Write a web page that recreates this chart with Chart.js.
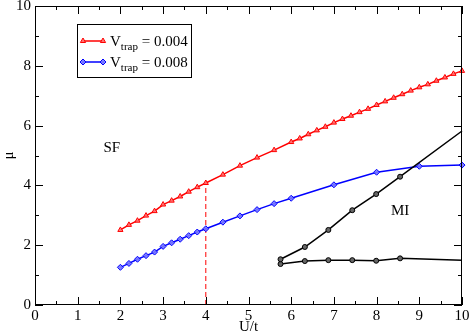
<!DOCTYPE html>
<html>
<head>
<meta charset="utf-8">
<script src="https://cdn.jsdelivr.net/npm/chart.js"></script>
<style>
html, body { margin: 0; padding: 0; background: #fff; }
</style>
</head>
<body>
<canvas id="muChart" width="471" height="336"></canvas>
<script>
// ==========================
// Data
// ==========================

const uRed = [2, 2.2, 2.4, 2.6, 2.8, 3, 3.2, 3.4, 3.6, 3.8, 4, 4.4, 4.8, 5.2, 5.6, 6,
    6.2, 6.4, 6.6, 6.8, 7, 7.2, 7.4, 7.6, 7.8, 8, 8.2, 8.4, 8.6, 8.8, 9, 9.2, 9.4, 9.6, 9.8, 10];
const muRed = [2.51, 2.68, 2.82, 2.99, 3.14, 3.36, 3.49, 3.63, 3.79, 3.94, 4.08, 4.36, 4.66, 4.93, 5.18, 5.45,
    5.57, 5.71, 5.84, 5.96, 6.10, 6.22, 6.33, 6.45, 6.56, 6.69, 6.81, 6.93, 7.05, 7.17, 7.28, 7.38, 7.50, 7.61, 7.73, 7.83];

const uBlue = [2, 2.2, 2.4, 2.6, 2.8, 3, 3.2, 3.4, 3.6, 3.8, 4, 4.4, 4.8, 5.2, 5.6, 6, 7, 8, 9, 10];
const muBlue = [1.26, 1.39, 1.53, 1.65, 1.77, 1.96, 2.08, 2.20, 2.32, 2.44, 2.55, 2.77, 2.98, 3.19, 3.39, 3.57, 4.02, 4.44, 4.64, 4.68];

const uMiUpper = [5.75, 6.32, 6.87, 7.43, 7.99, 8.55, 10];
const muMiUpper = [1.53, 1.94, 2.51, 3.17, 3.71, 4.29, 5.82];

const uMiLower = [5.75, 6.32, 6.87, 7.43, 7.99, 8.55, 10];
const muMiLower = [1.37, 1.47, 1.50, 1.50, 1.48, 1.56, 1.50];

const uCut = [4, 4];
const muCut = [0, 4.08];

const legendLabels = ["0.004", "0.008"];

function toPoints(xs, ys) {
    return xs.map((x, i) => ({ x: x, y: ys[i] }));
}

const serif = "'Liberation Serif', 'DejaVu Serif', serif";

// ==========================
// Frame, inward ticks, legend, region labels
// ==========================

const decorPlugin = {
    id: "decor",
    afterDraw(chart) {
        const ctx = chart.ctx;
        const a = chart.chartArea;
        const xs = chart.scales.x;
        const ys = chart.scales.y;

        ctx.save();
        ctx.strokeStyle = "#000";
        ctx.lineWidth = 1;

        // frame
        ctx.strokeRect(a.left + 0.5, a.top + 0.5, a.right - a.left - 1, a.bottom - a.top - 1);

        // x ticks
        for (let v = 0; v <= 10.001; v += 0.5) {
            const px = Math.round(xs.getPixelForValue(v)) + 0.5;
            const len = Number.isInteger(v) ? 8 : 4;
            ctx.beginPath();
            ctx.moveTo(px, a.bottom);
            ctx.lineTo(px, a.bottom - len);
            ctx.moveTo(px, a.top);
            ctx.lineTo(px, a.top + len);
            ctx.stroke();
        }

        // y ticks
        for (let v = 0; v <= 10; v += 1) {
            const py = Math.round(ys.getPixelForValue(v)) + 0.5;
            const len = v % 2 === 0 ? 8 : 4;
            ctx.beginPath();
            ctx.moveTo(a.left, py);
            ctx.lineTo(a.left + len, py);
            ctx.moveTo(a.right, py);
            ctx.lineTo(a.right - len, py);
            ctx.stroke();
        }

        // region labels
        ctx.fillStyle = "#000";
        ctx.font = "15px " + serif;
        ctx.textAlign = "center";
        ctx.textBaseline = "middle";
        ctx.fillText("SF", xs.getPixelForValue(1.8), ys.getPixelForValue(5.25));
        ctx.fillText("MI", xs.getPixelForValue(8.55), ys.getPixelForValue(3.14));

        // legend box
        const bx = 77, by = 24, bw = 114, bh = 53;
        ctx.fillStyle = "#fff";
        ctx.fillRect(bx, by, bw, bh);
        ctx.strokeRect(bx + 0.5, by + 0.5, bw, bh);

        const rows = [41, 62];
        for (let i = 0; i < 2; i++) {
            const ds = chart.data.datasets[i];
            const y = rows[i];
            ctx.strokeStyle = ds.borderColor;
            ctx.lineWidth = ds.borderWidth;
            ctx.beginPath();
            ctx.moveTo(82, y);
            ctx.lineTo(104, y);
            ctx.stroke();
            const pOpts = {
                pointStyle: ds.pointStyle,
                radius: ds.pointRadius,
                rotation: 0,
                borderWidth: 1
            };
            ctx.fillStyle = ds.pointBackgroundColor;
            ctx.strokeStyle = ds.borderColor;
            ctx.lineWidth = 1;
            Chart.helpers.drawPoint(ctx, pOpts, 83, y);
            Chart.helpers.drawPoint(ctx, pOpts, 103, y);

            ctx.fillStyle = "#000";
            ctx.textAlign = "left";
            ctx.textBaseline = "alphabetic";
            ctx.font = "15px " + serif;
            ctx.fillText("V", 110, y + 5);
            const vw = ctx.measureText("V").width;
            ctx.font = "11px " + serif;
            ctx.fillText("trap", 110 + vw, y + 9);
            const tw = ctx.measureText("trap").width;
            ctx.font = "15px " + serif;
            ctx.fillText(" = " + legendLabels[i], 110 + vw + tw, y + 5);
        }
        ctx.restore();
    }
};

// ==========================
// Chart
// ==========================

const ctx = document.getElementById("muChart");

const muChart = new Chart(ctx, {

    type: "scatter",

    data: {
        datasets: [
            {
                label: "Vtrap = 0.004",
                data: toPoints(uRed, muRed),
                showLine: true,
                borderColor: "#ff0000",
                borderWidth: 1.5,
                pointStyle: "triangle",
                pointRadius: 3,
                pointBorderWidth: 1,
                pointBackgroundColor: "rgba(255,120,120,0.9)",
                pointBorderColor: "#ff0000",
                clip: 5,
                order: 2
            },
            {
                label: "Vtrap = 0.008",
                data: toPoints(uBlue, muBlue),
                showLine: true,
                borderColor: "#0000ff",
                borderWidth: 1.5,
                pointStyle: "rectRot",
                pointRadius: 3,
                pointBorderWidth: 1,
                pointBackgroundColor: "rgba(120,120,255,0.9)",
                pointBorderColor: "#0000ff",
                clip: 5,
                order: 1
            },
            {
                label: "MI upper",
                data: toPoints(uMiUpper, muMiUpper),
                showLine: true,
                borderColor: "#000",
                borderWidth: 1.5,
                pointStyle: "circle",
                pointRadius: [2.5, 2.5, 2.5, 2.5, 2.5, 2.5, 0],
                pointBorderWidth: 1,
                pointBackgroundColor: "#666",
                pointBorderColor: "#000",
                clip: 5,
                order: 0
            },
            {
                label: "MI lower",
                data: toPoints(uMiLower, muMiLower),
                showLine: true,
                borderColor: "#000",
                borderWidth: 1.5,
                pointStyle: "circle",
                pointRadius: [2.5, 2.5, 2.5, 2.5, 2.5, 2.5, 0],
                pointBorderWidth: 1,
                pointBackgroundColor: "#666",
                pointBorderColor: "#000",
                clip: 5,
                order: 0
            },
            {
                label: "cut",
                data: toPoints(uCut, muCut),
                showLine: true,
                borderColor: "#ff0000",
                borderWidth: 1,
                borderDash: [5, 3],
                pointRadius: 0,
                order: 3
            }
        ]
    },

    options: {
        responsive: false,
        animation: false,
        devicePixelRatio: 1,
        layout: { padding: { top: 6, right: 9, left: 0, bottom: 0 } },
        plugins: {
            legend: { display: false },
            tooltip: { enabled: false }
        },
        scales: {
            x: {
                type: "linear",
                min: 0,
                max: 10,
                grid: { display: false, drawTicks: false },
                border: { display: false },
                ticks: {
                    stepSize: 1,
                    color: "#000",
                    padding: 2,
                    maxRotation: 0,
                    autoSkip: false,
                    font: { family: serif, size: 15 }
                },
                title: {
                    display: true,
                    text: "U/t",
                    color: "#000",
                    padding: 0,
                    font: { family: serif, size: 15 }
                },
                afterFit(scale) {
                    scale.height = 31;
                    scale.paddingLeft = 0;
                    scale.paddingRight = 0;
                }
            },
            y: {
                type: "linear",
                min: 0,
                max: 10,
                grid: { display: false, drawTicks: false },
                border: { display: false },
                ticks: {
                    stepSize: 2,
                    color: "#000",
                    padding: 4,
                    font: { family: serif, size: 15 }
                },
                title: {
                    display: true,
                    text: "μ",
                    color: "#000",
                    padding: 0,
                    font: { family: serif, size: 15 }
                },
                afterFit(scale) {
                    scale.width = 35;
                    scale.paddingTop = 0;
                    scale.paddingBottom = 0;
                }
            }
        }
    },

    plugins: [decorPlugin]
});
</script>
</body>
</html>
